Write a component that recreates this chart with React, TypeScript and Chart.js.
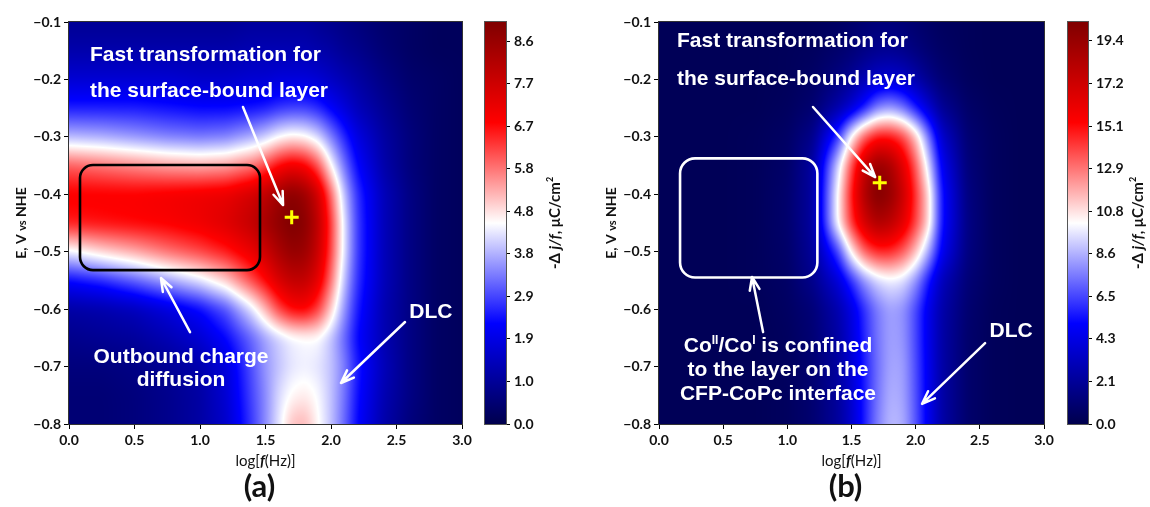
import React, { useEffect, useRef } from "react";
import { Chart, registerables } from "chart.js";

Chart.register(...registerables);

// ---------- DATA ----------
const LOGF_NODES = [0, 0.25, 0.5, 0.75, 1.0, 1.2, 1.4, 1.5, 1.6, 1.7, 1.8, 1.9, 2.0, 2.1, 2.2, 2.4, 2.6, 2.8, 3.0];
const E_NODES = [-0.1, -0.15, -0.2, -0.25, -0.3, -0.35, -0.4, -0.45, -0.5, -0.55, -0.6, -0.65, -0.7, -0.75, -0.8];

// panel (a): -Δj/f values (µC/cm²), one row per E node, one column per log f node
const FIELD_A = [
  [0.9, 0.9, 0.9, 0.9, 0.9, 0.9, 1.0, 1.0, 1.0, 1.0, 1.0, 0.9, 0.8, 0.7, 0.6, 0.4, 0.3, 0.2, 0.2],
  [1.2, 1.2, 1.2, 1.2, 1.2, 1.2, 1.3, 1.3, 1.3, 1.3, 1.3, 1.2, 1.1, 0.9, 0.8, 0.5, 0.3, 0.2, 0.2],
  [1.7, 1.7, 1.7, 1.7, 1.6, 1.6, 1.7, 1.7, 1.8, 1.8, 1.8, 1.7, 1.5, 1.3, 1.1, 0.7, 0.4, 0.3, 0.2],
  [2.5, 2.5, 2.5, 2.4, 2.3, 2.3, 2.4, 2.5, 2.7, 2.8, 2.8, 2.6, 2.2, 1.8, 1.4, 0.9, 0.5, 0.3, 0.2],
  [3.9, 3.8, 3.6, 3.4, 3.3, 3.4, 3.8, 4.1, 4.5, 4.7, 4.6, 4.2, 3.4, 2.6, 1.9, 1.1, 0.6, 0.3, 0.2],
  [6.0, 5.8, 5.6, 5.4, 5.3, 5.4, 5.8, 6.2, 6.8, 7.1, 6.9, 6.1, 4.6, 3.3, 2.3, 1.2, 0.6, 0.3, 0.2],
  [6.9, 6.9, 6.9, 7.0, 7.1, 7.2, 7.6, 8.0, 8.5, 8.9, 8.6, 7.7, 5.9, 4.0, 2.7, 1.4, 0.7, 0.3, 0.2],
  [6.6, 6.7, 6.8, 6.9, 7.1, 7.4, 7.9, 8.4, 8.8, 9.1, 8.9, 8.0, 6.3, 4.3, 2.8, 1.4, 0.7, 0.3, 0.2],
  [4.4, 4.9, 5.3, 5.8, 6.2, 6.6, 7.2, 7.7, 8.3, 8.7, 8.6, 7.8, 6.2, 4.3, 2.8, 1.4, 0.7, 0.3, 0.2],
  [2.3, 2.6, 3.1, 3.7, 4.3, 5.0, 6.2, 6.8, 7.5, 7.9, 7.9, 7.3, 5.8, 4.0, 2.7, 1.4, 0.7, 0.3, 0.2],
  [1.1, 1.2, 1.4, 1.8, 2.3, 3.0, 4.3, 5.2, 6.2, 6.8, 6.9, 6.3, 5.0, 3.6, 2.5, 1.3, 0.7, 0.3, 0.2],
  [0.8, 0.9, 1.0, 1.3, 1.7, 2.3, 3.2, 3.7, 4.1, 4.4, 4.5, 4.5, 4.0, 3.2, 2.3, 1.3, 0.7, 0.3, 0.2],
  [0.6, 0.6, 0.7, 0.9, 1.2, 1.8, 3.0, 3.6, 4.0, 4.3, 4.4, 4.3, 4.0, 3.4, 2.5, 1.4, 0.7, 0.3, 0.2],
  [0.5, 0.5, 0.6, 0.8, 1.1, 1.7, 2.9, 3.5, 4.2, 4.6, 4.7, 4.5, 4.0, 3.3, 2.4, 1.3, 0.7, 0.3, 0.2],
  [0.5, 0.5, 0.6, 0.8, 1.1, 1.6, 2.8, 3.5, 4.3, 5.1, 5.2, 4.6, 4.0, 3.2, 2.3, 1.2, 0.6, 0.3, 0.2],
];

// panel (b)
const FIELD_B = [
  [0.3, 0.3, 0.3, 0.3, 0.3, 0.4, 0.6, 0.8, 1.0, 1.2, 1.2, 1.1, 0.9, 0.7, 0.5, 0.4, 0.3, 0.3, 0.3],
  [0.3, 0.3, 0.3, 0.3, 0.4, 0.5, 0.9, 1.2, 1.6, 1.9, 2.0, 1.8, 1.4, 1.0, 0.7, 0.4, 0.3, 0.3, 0.3],
  [0.3, 0.3, 0.3, 0.3, 0.4, 0.7, 1.5, 2.1, 2.9, 3.6, 3.8, 3.5, 2.7, 1.8, 1.1, 0.5, 0.3, 0.3, 0.3],
  [0.3, 0.3, 0.3, 0.3, 0.5, 1.0, 2.7, 3.9, 5.6, 7.6, 8.2, 7.4, 5.6, 3.8, 2.1, 0.8, 0.4, 0.3, 0.3],
  [0.3, 0.3, 0.3, 0.4, 0.7, 1.8, 6.3, 10.5, 13.5, 15.0, 15.0, 14.0, 11.5, 7.5, 3.7, 1.1, 0.5, 0.3, 0.3],
  [0.3, 0.3, 0.3, 0.4, 0.8, 2.4, 9.5, 13.8, 17.5, 19.5, 18.8, 16.5, 13.5, 9.5, 4.8, 1.3, 0.5, 0.3, 0.3],
  [0.3, 0.3, 0.3, 0.4, 0.9, 2.4, 10.5, 14.8, 18.5, 20.3, 19.6, 17.5, 14.3, 11.0, 5.5, 1.5, 0.5, 0.3, 0.3],
  [0.3, 0.3, 0.3, 0.4, 0.9, 2.4, 10.5, 14.3, 17.0, 18.5, 18.0, 16.5, 14.0, 11.0, 5.5, 1.6, 0.5, 0.3, 0.3],
  [0.3, 0.3, 0.3, 0.4, 0.8, 2.2, 6.5, 10.5, 13.3, 14.5, 14.5, 13.5, 11.5, 8.5, 4.8, 1.5, 0.5, 0.3, 0.3],
  [0.3, 0.3, 0.3, 0.4, 0.7, 1.8, 4.0, 6.0, 8.0, 9.3, 9.8, 9.5, 8.0, 5.5, 3.2, 1.2, 0.5, 0.3, 0.3],
  [0.3, 0.3, 0.3, 0.3, 0.6, 1.2, 2.8, 4.2, 6.0, 7.5, 8.3, 8.0, 6.5, 4.5, 2.7, 1.0, 0.4, 0.3, 0.3],
  [0.3, 0.3, 0.3, 0.3, 0.5, 1.1, 2.5, 4.0, 5.8, 7.4, 8.3, 8.1, 6.5, 4.5, 2.6, 0.9, 0.4, 0.3, 0.3],
  [0.3, 0.3, 0.3, 0.3, 0.5, 1.0, 2.4, 3.8, 5.6, 7.3, 8.4, 8.3, 6.6, 4.6, 2.6, 0.9, 0.4, 0.3, 0.3],
  [0.3, 0.3, 0.3, 0.3, 0.5, 1.0, 2.3, 3.7, 5.6, 7.4, 8.6, 8.4, 6.7, 4.6, 2.6, 0.9, 0.4, 0.3, 0.3],
  [0.3, 0.3, 0.3, 0.3, 0.5, 1.0, 2.3, 3.6, 5.6, 7.6, 8.8, 8.6, 6.8, 4.6, 2.6, 0.9, 0.4, 0.3, 0.3],
];

const X_TICKS = [0, 0.5, 1.0, 1.5, 2.0, 2.5, 3.0];
const E_TICKS = [-0.8, -0.7, -0.6, -0.5, -0.4, -0.3, -0.2, -0.1];

const CB_MAX_A = 9.07;
const CB_TICKS_A = [0, 0.96, 1.92, 2.88, 3.84, 4.8, 5.76, 6.72, 7.68, 8.64];
const CB_LABELS_A = ["0.0", "1.0", "1.9", "2.9", "3.8", "4.8", "5.8", "6.7", "7.7", "8.6"];

const CB_MAX_B = 20.35;
const CB_TICKS_B = [0, 2.155, 4.31, 6.465, 8.62, 10.775, 12.93, 15.085, 17.24, 19.395];
const CB_LABELS_B = ["0.0", "2.1", "4.3", "6.5", "8.6", "10.8", "12.9", "15.1", "17.2", "19.4"];

const PEAK_A = [{ x: 1.7, y: -0.44 }];
const PEAK_B = [{ x: 1.72, y: -0.38 }];

// ---------- STYLE ----------
const ANN_FONT = 'bold 21px "Liberation Sans", Arial, sans-serif';
const SUP_FONT = 'bold 12px "Liberation Sans", Arial, sans-serif';
const TICK_FONT = { family: "Lato, 'Open Sans', sans-serif", size: 14, weight: "bold" as const };

type Seg = { t: string; font?: string; dy?: number };
type TextNote = { x: number; y: number; align: "left" | "center"; segs: Seg[] };
type ArrowNote = { x1: number; y1: number; x2: number; y2: number };
type BoxNote = { x1: number; x2: number; y1: number; y2: number; color: string; r: number };
type Notes = { texts: TextNote[]; arrows: ArrowNote[]; box: BoxNote };

const NOTES_A: Notes = {
  texts: [
    { x: 0.16, y: -0.154, align: "left", segs: [{ t: "Fast transformation for" }] },
    { x: 0.16, y: -0.2184, align: "left", segs: [{ t: "the surface-bound layer" }] },
    { x: 0.855, y: -0.68, align: "center", segs: [{ t: "Outbound charge" }] },
    { x: 0.855, y: -0.7216, align: "center", segs: [{ t: "diffusion" }] },
    { x: 2.763, y: -0.603, align: "center", segs: [{ t: "DLC" }] },
  ],
  arrows: [
    { x1: 1.328, y1: -0.248, x2: 1.634, y2: -0.4187 },
    { x1: 0.924, y1: -0.64, x2: 0.702, y2: -0.5458 },
    { x1: 2.565, y1: -0.6224, x2: 2.076, y2: -0.7286 },
  ],
  box: { x1: 0.084, x2: 1.458, y1: -0.349, y2: -0.532, color: "#000000", r: 13 },
};

const NOTES_B: Notes = {
  texts: [
    { x: 0.14, y: -0.1313, align: "left", segs: [{ t: "Fast transformation for" }] },
    { x: 0.14, y: -0.1975, align: "left", segs: [{ t: "the surface-bound layer" }] },
    {
      x: 0.927, y: -0.6607, align: "center",
      segs: [{ t: "Co" }, { t: "II", font: SUP_FONT, dy: -8 }, { t: "/Co" }, { t: "I", font: SUP_FONT, dy: -8 }, { t: " is confined" }],
    },
    { x: 0.927, y: -0.7025, align: "center", segs: [{ t: "to the layer on the" }] },
    { x: 0.927, y: -0.746, align: "center", segs: [{ t: "CFP-CoPc interface" }] },
    { x: 2.744, y: -0.636, align: "center", segs: [{ t: "DLC" }] },
  ],
  arrows: [
    { x1: 1.2, y1: -0.248, x2: 1.684, y2: -0.37 },
    { x1: 0.811, y1: -0.64, x2: 0.725, y2: -0.544 },
    { x1: 2.541, y1: -0.659, x2: 2.05, y2: -0.765 },
  ],
  box: { x1: 0.164, x2: 1.234, y1: -0.3375, y2: -0.545, color: "#ffffff", r: 15 },
};

// seismic colormap anchors
const CMAP: number[][] = [
  [0, 0, 0, 76.5],
  [0.25, 0, 0, 255],
  [0.5, 255, 255, 255],
  [0.75, 255, 0, 0],
  [1, 127.5, 0, 0],
];

function seismic(t: number): number[] {
  const u = Math.max(0, Math.min(1, t));
  for (let k = 0; k < CMAP.length - 1; k++) {
    const a = CMAP[k];
    const b = CMAP[k + 1];
    if (u <= b[0]) {
      const f = (u - a[0]) / (b[0] - a[0]);
      return [a[1] + (b[1] - a[1]) * f, a[2] + (b[2] - a[2]) * f, a[3] + (b[3] - a[3]) * f];
    }
  }
  return [CMAP[4][1], CMAP[4][2], CMAP[4][3]];
}

function blurPass(src: Float32Array, W: number, H: number, rx: number, ry: number): Float32Array {
  const tmp = new Float32Array(W * H);
  for (let y = 0; y < H; y++) {
    for (let x = 0; x < W; x++) {
      let s = 0;
      for (let k = -rx; k <= rx; k++) {
        const xx = Math.max(0, Math.min(W - 1, x + k));
        s += src[y * W + xx];
      }
      tmp[y * W + x] = s / (2 * rx + 1);
    }
  }
  const out = new Float32Array(W * H);
  for (let y = 0; y < H; y++) {
    for (let x = 0; x < W; x++) {
      let s = 0;
      for (let k = -ry; k <= ry; k++) {
        const yy = Math.max(0, Math.min(H - 1, y + k));
        s += tmp[yy * W + x];
      }
      out[y * W + x] = s / (2 * ry + 1);
    }
  }
  return out;
}

function heatmapPlugin(field: number[][], vmax: number) {
  return {
    id: "heatmap",
    beforeDatasetsDraw(chart: any) {
      const { ctx, chartArea: ca, scales } = chart;
      const xs = scales.x;
      const ys = scales.y;
      const L = Math.round(ca.left);
      const T = Math.round(ca.top);
      const W = Math.round(ca.right) - L;
      const H = Math.round(ca.bottom) - T;
      let vals = new Float32Array(W * H);
      for (let py = 0; py < H; py++) {
        const e = ys.getValueForPixel(T + py + 0.5);
        let i = 0;
        while (i < E_NODES.length - 2 && e < E_NODES[i + 1]) i++;
        const ty = Math.max(0, Math.min(1, (E_NODES[i] - e) / (E_NODES[i] - E_NODES[i + 1])));
        for (let px = 0; px < W; px++) {
          const x = xs.getValueForPixel(L + px + 0.5);
          let j = 0;
          while (j < LOGF_NODES.length - 2 && x > LOGF_NODES[j + 1]) j++;
          const tx = Math.max(0, Math.min(1, (x - LOGF_NODES[j]) / (LOGF_NODES[j + 1] - LOGF_NODES[j])));
          const top = field[i][j] * (1 - tx) + field[i][j + 1] * tx;
          const bot = field[i + 1][j] * (1 - tx) + field[i + 1][j + 1] * tx;
          vals[py * W + px] = top * (1 - ty) + bot * ty;
        }
      }
      vals = blurPass(vals, W, H, 4, 7);
      vals = blurPass(vals, W, H, 4, 7);
      const off = document.createElement("canvas");
      off.width = W;
      off.height = H;
      const octx = off.getContext("2d")!;
      const img = octx.createImageData(W, H);
      for (let p = 0; p < W * H; p++) {
        const c = seismic(vals[p] / vmax);
        img.data[p * 4] = c[0];
        img.data[p * 4 + 1] = c[1];
        img.data[p * 4 + 2] = c[2];
        img.data[p * 4 + 3] = 255;
      }
      octx.putImageData(img, 0, 0);
      ctx.drawImage(off, L, T);
    },
  };
}

function drawRich(ctx: CanvasRenderingContext2D, segs: Seg[], x: number, baseY: number, align: "left" | "center", defFont: string) {
  let total = 0;
  const ws = segs.map((s) => {
    ctx.font = s.font || defFont;
    const w = ctx.measureText(s.t).width;
    total += w;
    return w;
  });
  let cx = align === "center" ? x - total / 2 : x;
  ctx.textAlign = "left";
  ctx.textBaseline = "alphabetic";
  segs.forEach((s, k) => {
    ctx.font = s.font || defFont;
    ctx.fillText(s.t, cx, baseY + (s.dy || 0));
    cx += ws[k];
  });
}

function drawArrow(ctx: CanvasRenderingContext2D, x1: number, y1: number, x2: number, y2: number) {
  const ang = Math.atan2(y2 - y1, x2 - x1);
  const len = 14;
  const spread = 0.36;
  ctx.beginPath();
  ctx.moveTo(x1, y1);
  ctx.lineTo(x2, y2);
  ctx.moveTo(x2 - len * Math.cos(ang - spread), y2 - len * Math.sin(ang - spread));
  ctx.lineTo(x2, y2);
  ctx.lineTo(x2 - len * Math.cos(ang + spread), y2 - len * Math.sin(ang + spread));
  ctx.stroke();
}

function annotPlugin(notes: Notes, tag: string) {
  return {
    id: "annot",
    afterDatasetsDraw(chart: any) {
      const { ctx, scales } = chart;
      const xs = scales.x;
      const ys = scales.y;
      ctx.save();
      const b = notes.box;
      const bx1 = xs.getPixelForValue(b.x1);
      const bx2 = xs.getPixelForValue(b.x2);
      const by1 = ys.getPixelForValue(b.y1);
      const by2 = ys.getPixelForValue(b.y2);
      ctx.strokeStyle = b.color;
      ctx.lineWidth = 2.6;
      ctx.beginPath();
      (ctx as any).roundRect(bx1, by1, bx2 - bx1, by2 - by1, b.r);
      ctx.stroke();
      ctx.strokeStyle = "#ffffff";
      ctx.lineWidth = 2.5;
      ctx.lineCap = "round";
      ctx.lineJoin = "round";
      notes.arrows.forEach((a) => {
        drawArrow(ctx, xs.getPixelForValue(a.x1), ys.getPixelForValue(a.y1), xs.getPixelForValue(a.x2), ys.getPixelForValue(a.y2));
      });
      ctx.fillStyle = "#ffffff";
      notes.texts.forEach((t) => {
        drawRich(ctx, t.segs, xs.getPixelForValue(t.x), ys.getPixelForValue(t.y) + 7.5, t.align, ANN_FONT);
      });
      ctx.restore();
    },
    afterDraw(chart: any) {
      const { ctx, chartArea: ca } = chart;
      ctx.save();
      ctx.strokeStyle = "#333333";
      ctx.lineWidth = 1;
      ctx.strokeRect(Math.round(ca.left) - 0.5, Math.round(ca.top) - 0.5, Math.round(ca.right - ca.left) + 1, Math.round(ca.bottom - ca.top) + 1);
      ctx.fillStyle = "#111111";
      const cx = (ca.left + ca.right) / 2;
      drawRich(ctx, [
        { t: "log[", font: "15px Lato, sans-serif" },
        { t: "f", font: "italic bold 15px Lato, sans-serif" },
        { t: "(Hz)]", font: "15px Lato, sans-serif" },
      ], cx, 466, "center", "15px Lato");
      drawRich(ctx, [{ t: tag }], cx - 6, 497, "center", "bold 31px Lato, sans-serif");
      ctx.translate(ca.left - 48, (ca.top + ca.bottom) / 2);
      ctx.rotate(-Math.PI / 2);
      drawRich(ctx, [
        { t: "E, V ", font: "bold 14px Lato, sans-serif" },
        { t: "vs", font: "bold 11px Lato, sans-serif" },
        { t: " NHE", font: "bold 14px Lato, sans-serif" },
      ], 0, 5, "center", "bold 14px Lato");
      ctx.restore();
    },
  };
}

type PanelProps = {
  left: number;
  width: number;
  axisWidth: number;
  padRight: number;
  field: number[][];
  vmax: number;
  peak: { x: number; y: number }[];
  notes: Notes;
  tag: string;
};

function HeatPanel(p: PanelProps) {
  const ref = useRef<HTMLCanvasElement>(null);
  useEffect(() => {
    const chart = new Chart(ref.current!, {
      type: "scatter",
      data: {
        datasets: [
          {
            data: p.peak,
            pointStyle: "cross",
            pointRadius: 7,
            pointBorderWidth: 3,
            pointBorderColor: "#ffff00",
            pointBackgroundColor: "#ffff00",
            borderColor: "#ffff00",
            backgroundColor: "#ffff00",
          } as any,
        ],
      },
      options: {
        animation: false,
        responsive: false,
        maintainAspectRatio: false,
        devicePixelRatio: 1,
        events: [],
        layout: { padding: { left: 0, top: 22, right: p.padRight, bottom: 0 } },
        plugins: { legend: { display: false }, tooltip: { enabled: false } },
        scales: {
          x: {
            type: "linear",
            min: 0,
            max: 3,
            afterBuildTicks: (s: any) => {
              s.ticks = X_TICKS.map((v) => ({ value: v }));
            },
            ticks: {
              autoSkip: false,
              maxRotation: 0,
              padding: 3,
              color: "#111111",
              font: TICK_FONT,
              callback: (v: any) => Number(v).toFixed(1),
            },
            grid: { drawOnChartArea: false, drawTicks: true, tickLength: 5, color: "#000000" },
            border: { display: true, color: "#000000" },
            afterFit: (s: any) => {
              s.height = 83;
              s.paddingLeft = 0;
              s.paddingRight = 0;
            },
          },
          y: {
            type: "linear",
            min: -0.8,
            max: -0.1,
            afterBuildTicks: (s: any) => {
              s.ticks = E_TICKS.map((v) => ({ value: v }));
            },
            ticks: {
              autoSkip: false,
              padding: 3,
              color: "#111111",
              font: TICK_FONT,
              callback: (v: any) => "\u2212" + Math.abs(Number(v)).toFixed(1),
            },
            grid: { drawOnChartArea: false, drawTicks: true, tickLength: 5, color: "#000000" },
            border: { display: true, color: "#000000" },
            afterFit: (s: any) => {
              s.width = p.axisWidth;
            },
          },
        },
      },
      plugins: [heatmapPlugin(p.field, p.vmax), annotPlugin(p.notes, p.tag)],
    } as any);
    return () => chart.destroy();
  }, []);
  return (
    <canvas
      ref={ref}
      width={p.width}
      height={507}
      style={{ position: "absolute", left: p.left, top: 0, width: p.width, height: 507 }}
    />
  );
}

type BarProps = {
  left: number;
  width: number;
  barLeft: number;
  barWidth: number;
  vmax: number;
  ticks: number[];
  labels: string[];
  labelX: number;
};

function ColorBar(p: BarProps) {
  const ref = useRef<HTMLCanvasElement>(null);
  useEffect(() => {
    const chart = new Chart(ref.current!, {
      type: "scatter",
      data: { datasets: [] },
      options: {
        animation: false,
        responsive: false,
        maintainAspectRatio: false,
        devicePixelRatio: 1,
        events: [],
        layout: { padding: { left: p.barLeft, top: 22, right: 0, bottom: 83 } },
        plugins: { legend: { display: false }, tooltip: { enabled: false } },
        scales: {
          x: { type: "linear", display: false, min: 0, max: 1 },
          y: {
            type: "linear",
            position: "right",
            min: 0,
            max: p.vmax,
            afterBuildTicks: (s: any) => {
              s.ticks = p.ticks.map((v) => ({ value: v }));
            },
            ticks: {
              autoSkip: false,
              padding: 4,
              color: "#111111",
              font: TICK_FONT,
              callback: (_v: any, i: number) => p.labels[i],
            },
            grid: { drawOnChartArea: false, drawTicks: true, tickLength: 4, color: "#000000" },
            border: { display: true, color: "#444444" },
            afterFit: (s: any) => {
              s.width = p.width - p.barLeft - p.barWidth;
            },
          },
        },
      },
      plugins: [
        {
          id: "cbar",
          afterDraw(c: any) {
            const { ctx, chartArea: ca } = c;
            ctx.save();
            const g = ctx.createLinearGradient(0, ca.bottom, 0, ca.top);
            CMAP.forEach((s) => g.addColorStop(s[0], `rgb(${s[1]},${s[2]},${s[3]})`));
            ctx.fillStyle = g;
            ctx.fillRect(ca.left, ca.top, ca.right - ca.left, ca.bottom - ca.top);
            ctx.strokeStyle = "#555555";
            ctx.lineWidth = 1;
            ctx.strokeRect(Math.round(ca.left) - 0.5, Math.round(ca.top) - 0.5, Math.round(ca.right - ca.left) + 1, Math.round(ca.bottom - ca.top) + 1);
            ctx.fillStyle = "#111111";
            ctx.translate(p.labelX, (ca.top + ca.bottom) / 2);
            ctx.rotate(-Math.PI / 2);
            drawRich(ctx, [
              { t: "-\u0394 ", font: "bold 15px Lato, sans-serif" },
              { t: "j/f", font: "italic bold 15px Lato, sans-serif" },
              { t: ", \u03bcC/cm", font: "bold 15px Lato, sans-serif" },
              { t: "2", font: "bold 9px Lato, sans-serif", dy: -7 },
            ], 0, 5, "center", "bold 15px Lato");
            ctx.restore();
          },
        },
      ],
    } as any);
    return () => chart.destroy();
  }, []);
  return (
    <canvas
      ref={ref}
      width={p.width}
      height={507}
      style={{ position: "absolute", left: p.left, top: 0, width: p.width, height: 507 }}
    />
  );
}

export default function App() {
  return (
    <div style={{ position: "absolute", left: 0, top: 0, width: 1150, height: 507, background: "#ffffff", overflow: "hidden" }}>
      <HeatPanel left={0} width={475} axisWidth={69} padRight={13} field={FIELD_A} vmax={CB_MAX_A} peak={PEAK_A} notes={NOTES_A} tag="(a)" />
      <ColorBar left={475} width={105} barLeft={10} barWidth={21} vmax={CB_MAX_A} ticks={CB_TICKS_A} labels={CB_LABELS_A} labelX={80} />
      <HeatPanel left={580} width={475} axisWidth={79} padRight={11} field={FIELD_B} vmax={CB_MAX_B} peak={PEAK_B} notes={NOTES_B} tag="(b)" />
      <ColorBar left={1055} width={95} barLeft={13} barWidth={20} vmax={CB_MAX_B} ticks={CB_TICKS_B} labels={CB_LABELS_B} labelX={83} />
    </div>
  );
}
